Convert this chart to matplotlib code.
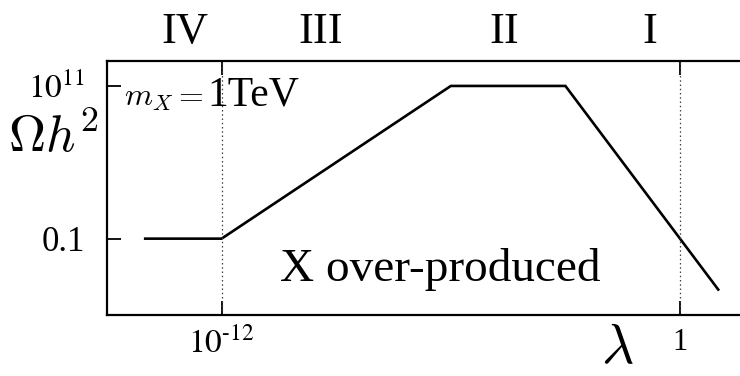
import matplotlib
matplotlib.use("Agg")
import matplotlib.pyplot as plt
import numpy as np

plt.rcParams['font.family'] = ['Liberation Serif', 'DejaVu Serif']
plt.rcParams['mathtext.fontset'] = 'stix'

# relic abundance vs coupling (log-log broken line)
lam = [1e-14, 1e-12, 1e-6, 1e-3, 1e1]
omega = [0.1, 0.1, 1e11, 1e11, 1e-5]

xticks = [1e-12, 1.0]
xticklabels = [r'$10^{\text{-}12}$', '1']
yticks = [0.1, 1e11]
yticklabels = ['0.1', r'$10^{11}$']

regions = ['IV', 'III', 'II', 'I']
region_x = [10**-12.95, 10**-9.4, 10**-4.6, 10**-0.8]

W, H = 740, 376
fig = plt.figure(figsize=(W / 100, H / 100), dpi=100)
ax = fig.add_axes([107 / W, (H - 315) / H, (W - 107) / W, (315 - 61) / H])

ax.plot(lam, omega, color='black', lw=1.9, solid_joinstyle='miter')
for xv in xticks:
    ax.axvline(xv, color='0.25', lw=0.9, ls=(0, (1.2, 2.2)))

ax.set_xscale('log')
ax.set_yscale('log')
ax.set_xlim(1e-15, 10**1.57)
ax.set_ylim(1e-7, 10**12.96)

ax.set_xticks(xticks)
ax.set_xticklabels(xticklabels)
ax.set_yticks(yticks)
ax.set_yticklabels(yticklabels)
ax.minorticks_off()
ax.tick_params(axis='both', direction='in', length=10, width=1.3, labelsize=24)
ax.tick_params(axis='x', top=True, pad=9)
ax.tick_params(axis='y', pad=16)
ax.get_xticklabels()[1].set_fontsize(22)
ax.get_yticklabels()[0].set_fontsize(25)

ax.spines['right'].set_visible(False)
for s in ['left', 'bottom', 'top']:
    ax.spines[s].set_linewidth(1.6)

for lab, xv in zip(regions, region_x):
    ax.text(xv, 1.07, lab, transform=ax.get_xaxis_transform(),
            ha='center', va='baseline', fontsize=32)

ax.text(10**-14.56, 10**9.45, r'$m_X =$', fontsize=23, math_fontfamily='cm',
        va='baseline', ha='left')
ax.text(10**-12.38, 10**9.45, '1TeV', fontsize=30, va='baseline', ha='left')
ax.text(10**-10.48, 10**-4.3, 'X over-produced', fontsize=34, va='baseline', ha='left')

fig.text(53 / W, 1 - 138 / H, r'$\Omega h^2$', fontsize=37, math_fontfamily='cm',
         ha='center', va='center')
fig.text(617 / W, 1 / H, r'$\lambda$', fontsize=40, math_fontfamily='cm',
         ha='center', va='bottom')

fig.savefig('out.png', dpi=100)
